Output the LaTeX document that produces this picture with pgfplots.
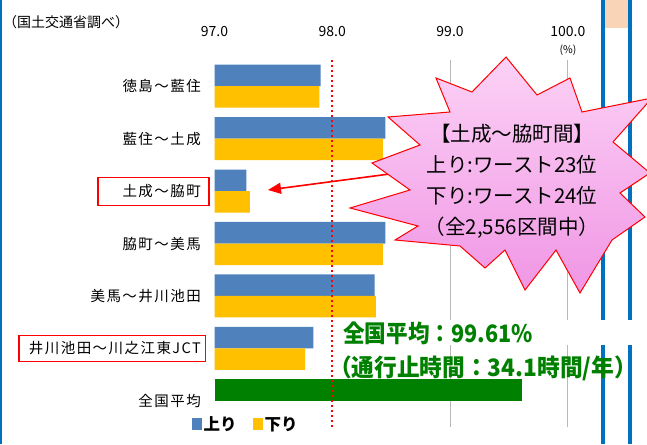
\documentclass[border=0pt]{standalone}
\usepackage{fontspec}
\setmainfont{Noto Sans CJK JP}
\newfontfamily\cjklab{Noto Sans CJK JP}[LetterSpace=10]
\usepackage{graphicx}
\usepackage{pgfplots}
\pgfplotsset{compat=1.18}
\usepackage{pgfplotstable}
\usetikzlibrary{arrows.meta}
\definecolor{cblue}{RGB}{79,129,189}
\definecolor{corange}{RGB}{255,192,0}
\definecolor{cgreen}{RGB}{0,128,0}
\definecolor{slideblue}{RGB}{0,112,192}
\definecolor{peach}{RGB}{250,212,182}
\definecolor{starlight}{RGB}{252,210,246}
\definecolor{stardark}{RGB}{240,150,228}

% pos: 6 = top category ... 0 = bottom
\pgfplotstableread{
pos up down
6 97.90 97.89
5 98.45 98.43
4 97.27 97.30
3 98.45 98.43
2 98.36 98.37
1 97.84 97.77
}\sections

\begin{document}
\begin{tikzpicture}[x=1pt,y=1pt]
\clip (0,0) rectangle (647,444);
\fill[white] (0,0) rectangle (647,444);
\path[use as bounding box] (0,0) rectangle (647,444);

% slide decorations
\fill[peach] (605,444) rectangle (628,416);
\draw[slideblue, line width=3.5pt] (603,0) -- (603,444);
\draw[slideblue, line width=3.5pt] (630,0) -- (630,444);
\draw[slideblue, line width=2.5pt] (0.5,0) -- (0.5,444);

\node[anchor=west, inner sep=0pt, font=\fontsize{14}{14}\selectfont] at (3,422) {（国土交通省調べ）};
\node[inner sep=0pt, font=\fontsize{10.5}{10.5}\selectfont] at (568,394) {(\%)};

\begin{axis}[
  at={(214.5pt,17pt)}, anchor=south west,
  scale only axis, width=388.7pt, height=367pt,
  xmin=97, xmax=100.3, ymin=-0.5, ymax=6.5,
  axis line style={draw=none},
  major tick length=0pt,
  xtick={97,98,99,100},
  xticklabels={97.0,98.0,99.0,100.0},
  xticklabel pos=upper,
  xticklabel style={anchor=center, inner sep=0pt, yshift=28pt, font=\fontsize{14}{14}\selectfont},
  extra x ticks={99,100},
  extra x tick labels={},
  extra x tick style={grid=major, major grid style={draw=black!28, line width=0.8pt}},
  ytick={0,1,2,3,4,5,6},
  yticklabels={全国平均,井川池田～川之江東JCT,美馬～井川池田,脇町～美馬,土成～脇町,藍住～土成,徳島～藍住},
  yticklabel style={anchor=east, inner sep=0pt, xshift=-13.5pt, font=\cjklab\fontsize{14.5}{14.5}\selectfont},
  legend columns=2,
  legend style={at={(0.08,0.008)}, anchor=center, draw=none, fill=none,
    font=\bfseries\fontsize{16.5}{16.5}\selectfont,
    /tikz/every even column/.append style={column sep=14pt}},
]
\addplot[xbar, bar width=21.5pt, bar shift=10.75pt, fill=cblue, draw=none,
  legend image code/.code={\fill[cblue] (0pt,-6pt) rectangle (10pt,6pt);}]
  table[x=up, y=pos] {\sections};
\addlegendentry{上り}
\addplot[xbar, bar width=21.5pt, bar shift=-10.75pt, fill=corange, draw=none,
  legend image code/.code={\fill[corange] (0pt,-6pt) rectangle (10pt,6pt);}]
  table[x=down, y=pos] {\sections};
\addlegendentry{下り}
\addplot[xbar, bar width=21.5pt, bar shift=10.75pt, fill=cgreen, draw=none, forget plot]
  coordinates {(99.61,0)};
\addplot[red, line width=2.3pt, dash pattern=on 2.3pt off 2.7pt, forget plot]
  coordinates {(98,-0.5) (98,6.5)};
\end{axis}

% red boxes around labels
\draw[red, line width=1.6pt] (97.7,238.3) rectangle (209,266.3);
\draw[red, line width=1.6pt] (19,82.5) rectangle (205.5,108.5);

% arrow and callout
\draw[red, line width=1.6pt, -{Triangle[length=13pt,width=11pt]}] (420,274) -- (268,254);
\draw[red, line width=1pt, top color=starlight, bottom color=stardark]
  (506,387) -- (537,349) -- (570,366) -- (582,332) -- (652,346) -- (613,302) --
  (650,271) -- (620,251) -- (645,227) -- (612,204) -- (580,151) -- (556,194) --
  (525,154) -- (505,194) -- (485,176) -- (460,198) -- (395,204) -- (418,218) --
  (350,236) -- (410,254) -- (372,281) -- (420,299) -- (388,327) -- (450,332) --
  (436,366) -- (472,352) -- cycle;
\node[align=center, inner sep=0pt, font=\fontsize{20.5}{31}\selectfont] at (512,263)
  {【土成～脇町間】\\上り:ワースト23位\\下り:ワースト24位\\（全2,556区間中）};

% green annotation
\fill[white] (336,99) rectangle (647,124);
\node[anchor=west, inner sep=0pt, text=cgreen, font=\bfseries\fontsize{24}{24}\selectfont] at (343,111) {\scalebox{0.9}[1]{全国平均：99.61\%}};
\node[anchor=west, inner sep=0pt, text=cgreen, font=\bfseries\fontsize{24}{24}\selectfont] at (329,76) {\scalebox{0.945}[1]{（通行止時間：34.1時間/年）}};
\end{tikzpicture}
\end{document}
